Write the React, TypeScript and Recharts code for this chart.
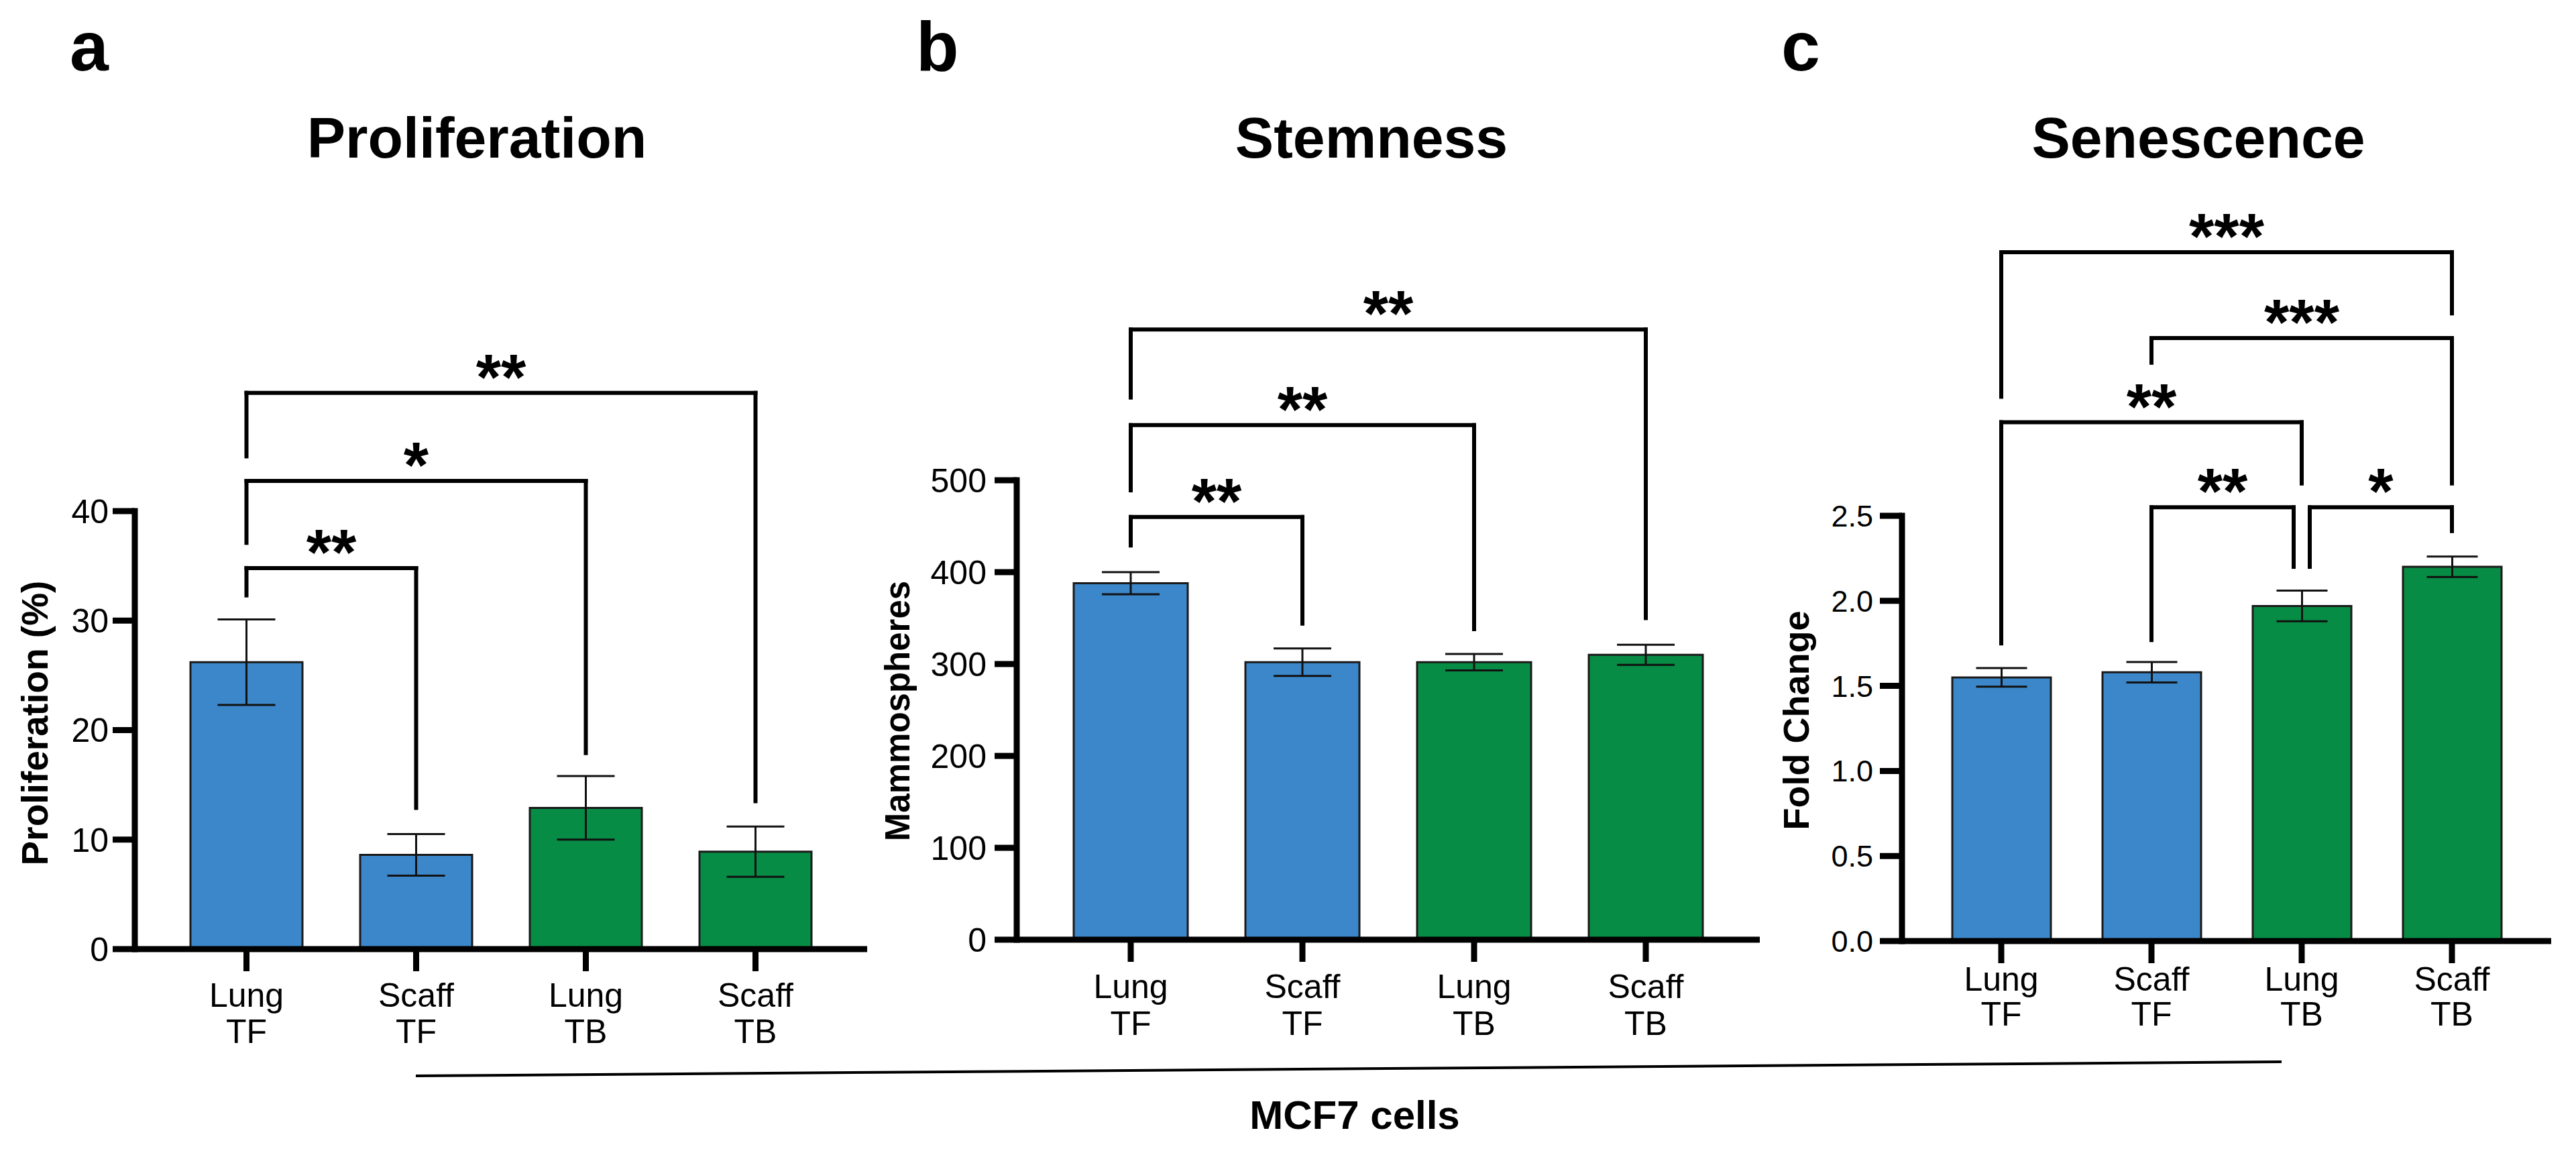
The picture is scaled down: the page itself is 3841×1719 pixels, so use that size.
import React from 'react';
import { BarChart, Bar, XAxis, YAxis, ErrorBar, Cell, ReferenceLine } from 'recharts';

const FONT = '"Liberation Sans", Arial, Helvetica, sans-serif';

// ---------- data ----------
const categories = ['Lung TF', 'Scaff TF', 'Lung TB', 'Scaff TB'];
const barColors = ['#3C87C9', '#3C87C9', '#078C45', '#078C45'];

const proliferationMean = [26.2, 8.6, 12.9, 8.9];
const proliferationSem = [3.9, 1.9, 2.9, 2.3];
const proliferationTicks = [0, 10, 20, 30, 40];

const stemnessMean = [388, 302, 302, 310];
const stemnessSem = [12, 15, 9, 11];
const stemnessTicks = [0, 100, 200, 300, 400, 500];

const senescenceMean = [1.55, 1.58, 1.97, 2.2];
const senescenceSem = [0.055, 0.06, 0.09, 0.06];
const senescenceTicks = [0, 0.5, 1.0, 1.5, 2.0, 2.5];

type Bracket = {
  from: string; to: string; y: number; fromEnd: number; toEnd: number; label: string;
  fromShift?: number; toShift?: number;
};

const proliferationBrackets: Bracket[] = [
  { from: 'Lung TF', to: 'Scaff TF', y: 34.8, fromEnd: 32.3, toEnd: 12.9, label: '**' },
  { from: 'Lung TF', to: 'Lung TB', y: 42.75, fromEnd: 37.1, toEnd: 17.9, label: '*' },
  { from: 'Lung TF', to: 'Scaff TB', y: 50.8, fromEnd: 45.0, toEnd: 13.5, label: '**' },
];

const stemnessBrackets: Bracket[] = [
  { from: 'Lung TF', to: 'Scaff TF', y: 460, fromEnd: 429, toEnd: 344, label: '**' },
  { from: 'Lung TF', to: 'Lung TB', y: 560, fromEnd: 489, toEnd: 338, label: '**' },
  { from: 'Lung TF', to: 'Scaff TB', y: 664, fromEnd: 590, toEnd: 350, label: '**' },
];

const senescenceBrackets: Bracket[] = [
  { from: 'Lung TF', to: 'Scaff TB', y: 4.05, fromEnd: 3.2, toEnd: 3.69, label: '***' },
  { from: 'Scaff TF', to: 'Scaff TB', y: 3.545, fromEnd: 3.4, toEnd: 2.69, label: '***' },
  { from: 'Lung TF', to: 'Lung TB', y: 3.05, fromEnd: 1.75, toEnd: 2.69, label: '**' },
  { from: 'Scaff TF', to: 'Lung TB', y: 2.55, fromEnd: 1.77, toEnd: 2.2, label: '**', toShift: -12 },
  { from: 'Lung TB', to: 'Scaff TB', y: 2.55, fromEnd: 2.2, toEnd: 2.41, label: '*', fromShift: 12 },
];

const buildRows = (mean: number[], sem: number[]) =>
  categories.map((name, i) => ({ name, value: mean[i], err: sem[i] }));

// ---------- helpers ----------
const STAR_SIZE = 96;
const STAR_DY = 9;

const bracketShape = (dx1: number, dx2: number, label?: string) => (p: any) => {
  const x1 = p.x1 + dx1;
  const x2 = p.x2 + dx2;
  return (
    <g>
      <line x1={x1} y1={p.y1} x2={x2} y2={p.y2} stroke="#000" strokeWidth={6} strokeLinecap="square" />
      {label ? (
        <text x={(x1 + x2) / 2} y={p.y1 + STAR_DY} textAnchor="middle" fontSize={STAR_SIZE}
          fontWeight="bold" fontFamily={FONT} fill="#000">{label}</text>
      ) : null}
    </g>
  );
};

const renderBrackets = (brackets: Bracket[]) =>
  brackets.flatMap((b, i) => {
    const s1 = b.fromShift || 0;
    const s2 = b.toShift || 0;
    return [
      <ReferenceLine key={`h${i}`} ifOverflow="visible"
        segment={[{ x: b.from, y: b.y }, { x: b.to, y: b.y }]} shape={bracketShape(s1, s2, b.label)} />,
      <ReferenceLine key={`l${i}`} ifOverflow="visible"
        segment={[{ x: b.from, y: b.y }, { x: b.from, y: b.fromEnd }]} shape={bracketShape(s1, s1)} />,
      <ReferenceLine key={`r${i}`} ifOverflow="visible"
        segment={[{ x: b.to, y: b.y }, { x: b.to, y: b.toEnd }]} shape={bracketShape(s2, s2)} />,
    ];
  });

const makeTick = (dy1: number, gap: number, fontSize: number) => (props: any) => {
  const { x, y, payload } = props;
  const lines = String(payload.value).split(' ');
  return (
    <text x={x} y={y} textAnchor="middle" fontSize={fontSize} fontFamily={FONT} fill="#000">
      {lines.map((l, i) => (
        <tspan key={i} x={x} dy={i === 0 ? dy1 : gap}>{l}</tspan>
      ))}
    </text>
  );
};

type PanelProps = {
  left: number; width: number;
  margin: { top: number; right: number; bottom: number; left: number };
  yWidth: number;
  mean: number[]; sem: number[];
  ticks: number[]; domain: [number, number];
  tickFont: number; tickMargin: number;
  fmt?: (v: number) => string;
  barSize: number; pad: number; capHalf: number;
  xDy: number; xGap: number;
  brackets: Bracket[];
};

const Panel = (pp: PanelProps) => {
  const rows = buildRows(pp.mean, pp.sem);
  return (
    <div style={{ position: 'absolute', left: pp.left, top: 0 }}>
      <BarChart width={pp.width} height={1719} data={rows} margin={pp.margin}>
        <XAxis dataKey="name" interval={0} padding={{ left: pp.pad, right: pp.pad }}
          axisLine={{ stroke: '#000', strokeWidth: 9 }}
          tickLine={{ stroke: '#000', strokeWidth: 9 }} tickSize={33} tickMargin={0} height={150}
          tick={makeTick(pp.xDy, pp.xGap, 50)} />
        <YAxis domain={pp.domain} ticks={pp.ticks} interval={0} width={pp.yWidth}
          axisLine={{ stroke: '#000', strokeWidth: 9, strokeLinecap: 'square' }}
          tickLine={{ stroke: '#000', strokeWidth: 9 }} tickSize={33} tickMargin={pp.tickMargin}
          tickFormatter={pp.fmt}
          tick={{ fontSize: pp.tickFont, fill: '#000', fontFamily: FONT }} />
        <Bar dataKey="value" barSize={pp.barSize} stroke="#1a1a1a" strokeWidth={3} isAnimationActive={false}>
          {rows.map((r, i) => <Cell key={r.name} fill={barColors[i]} />)}
          <ErrorBar dataKey="err" width={pp.capHalf} stroke="#111" strokeWidth={3} isAnimationActive={false} />
        </Bar>
        {renderBrackets(pp.brackets)}
      </BarChart>
    </div>
  );
};

export default function App() {
  return (
    <div style={{ position: 'absolute', left: 0, top: 0, width: 3841, height: 1719, background: '#fff', overflow: 'hidden' }}>
      <Panel left={0} width={1300} margin={{ top: 762, right: 7, bottom: 154, left: 81 }} yWidth={120}
        mean={proliferationMean} sem={proliferationSem} ticks={proliferationTicks} domain={[0, 40]}
        tickFont={50} tickMargin={6} barSize={167} pad={40} capHalf={43} xDy={53} xGap={54}
        brackets={proliferationBrackets} />
      <Panel left={1300} width={1340} margin={{ top: 716, right: 16, bottom: 168, left: 66 }} yWidth={150}
        mean={stemnessMean} sem={stemnessSem} ticks={stemnessTicks} domain={[0, 500]}
        tickFont={50} tickMargin={12} barSize={170} pad={42} capHalf={43} xDy={54} xGap={55}
        brackets={stemnessBrackets} />
      <Panel left={2600} width={1241} margin={{ top: 769, right: 37, bottom: 166, left: 86 }} yWidth={150}
        mean={senescenceMean} sem={senescenceSem} ticks={senescenceTicks} domain={[0, 2.5]}
        tickFont={45} tickMargin={10} fmt={(v: number) => v.toFixed(1)} barSize={147} pad={36} capHalf={38}
        xDy={41} xGap={52} brackets={senescenceBrackets} />
      <svg width={3841} height={1719} style={{ position: 'absolute', left: 0, top: 0, pointerEvents: 'none' }}
        fontFamily={FONT} fill="#000">
        <text x={104} y={105} fontSize={104} fontWeight="bold">a</text>
        <text x={1366} y={105} fontSize={104} fontWeight="bold">b</text>
        <text x={2656} y={105} fontSize={104} fontWeight="bold">c</text>
        <text x={711} y={235} fontSize={86} fontWeight="bold" textAnchor="middle">Proliferation</text>
        <text x={2045} y={235} fontSize={86} fontWeight="bold" textAnchor="middle">Stemness</text>
        <text x={3278} y={235} fontSize={86} fontWeight="bold" textAnchor="middle">Senescence</text>
        <text transform="translate(71,1078) rotate(-90)" fontSize={55} fontWeight="bold" textAnchor="middle">Proliferation (%)</text>
        <text transform="translate(1356,1060) rotate(-90)" fontSize={51} fontWeight="bold" textAnchor="middle">Mammospheres</text>
        <text transform="translate(2697,1074) rotate(-90)" fontSize={54} fontWeight="bold" textAnchor="middle">Fold Change</text>
        <line x1={620} y1={1604} x2={3402} y2={1583} stroke="#000" strokeWidth={4} />
        <text x={2020} y={1683} fontSize={60} fontWeight="bold" textAnchor="middle">MCF7 cells</text>
      </svg>
    </div>
  );
}
